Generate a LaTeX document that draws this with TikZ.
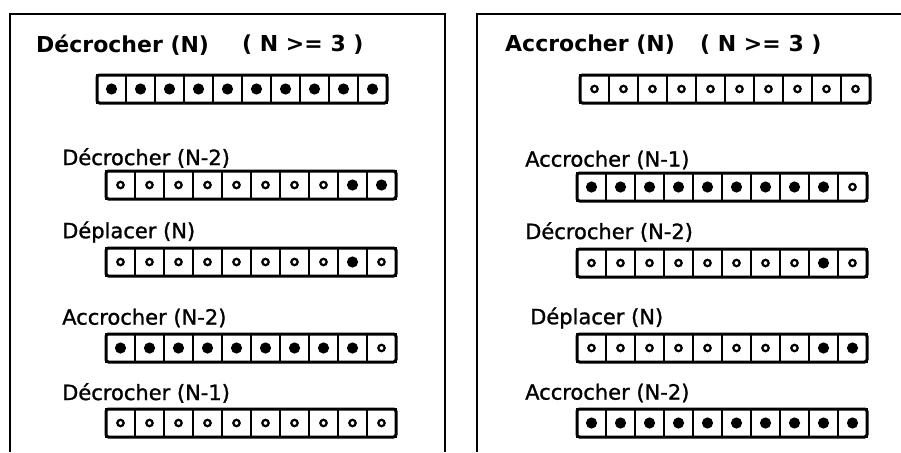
\documentclass[tikz,border=0pt]{standalone}
\usepackage{fontspec}
\setmainfont{DejaVu Sans}
\newfontfamily\demigras[FakeBold=1.2]{DejaVu Sans}

\tikzset{
  cell/.style={draw, line width=2.8pt, minimum width=29pt, minimum height=28pt, inner sep=0pt, outer sep=0pt},
  op/.style={anchor=west, inner sep=0pt, font=\fontsize{21}{24}\selectfont\demigras},
  titre/.style={op, font=\fontsize{22}{24}\selectfont\bfseries},
  cadre/.style={line width=2.4pt},
}

% one row of ten rings: 1 = ring hooked (black dot), 0 = ring free
\newcommand{\rangee}[4]{%
  \foreach \s [count=\i] in {#4} {
    \node[cell] (#1-\i) at ({#2+(\i-0.5)*29}, #3) {};
    \ifnum\s=1 \fill (#1-\i) circle (5.6pt); \else \draw[line width=2.2pt] (#1-\i) circle (3.2pt); \fi
  }
  \draw[line width=3pt, rounded corners=2.5pt] (#1-1.north west) rectangle (#1-10.south east);
}

\begin{document}
\begin{tikzpicture}[x=1pt, y=-1pt]
        \useasboundingbox (0,0) rectangle (901,452);

        % Frames
        \draw [cadre] (10,452) -- (10,14) -- (445,14) -- (445,452);
        \draw [cadre] (477,452) -- (477,14) -- (901,14);

        % Left: Decrocher(N)
        \node (tg) [titre] at (36,45) {Décrocher (N)};
        \node (cg) [titre] at (242,45) {( N >= 3 )};
        \rangee{g1}{97}{89}{1,1,1,1,1,1,1,1,1,1}
        \node (g2t) [op] at (62,158) {Décrocher (N-2)};
        \rangee{g2}{106}{185}{0,0,0,0,0,0,0,0,1,1}
        \node (g3t) [op] at (62,232) {Déplacer (N)};
        \rangee{g3}{106}{262}{0,0,0,0,0,0,0,0,1,0}
        \node (g4t) [op] at (62,318) {Accrocher (N-2)};
        \rangee{g4}{106}{348}{1,1,1,1,1,1,1,1,1,0}
        \node (g5t) [op] at (62,393) {Décrocher (N-1)};
        \rangee{g5}{106}{423}{0,0,0,0,0,0,0,0,0,0}

        % Right: Accrocher(N)
        \node (td) [titre] at (505,45) {Accrocher (N)};
        \node (cd) [titre] at (700,45) {( N >= 3 )};
        \rangee{d1}{580}{89}{0,0,0,0,0,0,0,0,0,0}
        \node (d2t) [op] at (525,160) {Accrocher (N-1)};
        \rangee{d2}{577}{187}{1,1,1,1,1,1,1,1,1,0}
        \node (d3t) [op] at (525,232) {Décrocher (N-2)};
        \rangee{d3}{577}{263}{0,0,0,0,0,0,0,0,1,0}
        \node (d4t) [op] at (530,318) {Déplacer (N)};
        \rangee{d4}{577}{348}{0,0,0,0,0,0,0,0,1,1}
        \node (d5t) [op] at (525,393) {Accrocher (N-2)};
        \rangee{d5}{577}{423}{1,1,1,1,1,1,1,1,1,1}
    \end{tikzpicture}
\end{document}
